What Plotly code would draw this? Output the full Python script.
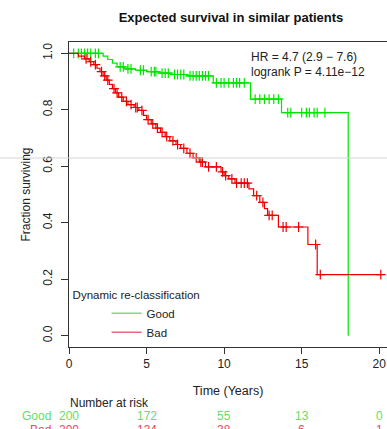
import numpy as np
import plotly.graph_objects as go

# ---- data ----
good_t = [0, 2.2, 2.5, 2.8, 3.1, 3.6, 4.3, 5.0, 5.8, 6.6, 7.6, 9.3, 11.7, 13.7, 18.0]
good_s = [1.0, 0.99, 0.978, 0.965, 0.952, 0.945, 0.94, 0.935, 0.93, 0.925, 0.92, 0.895, 0.838, 0.79, 0.0]
good_cens = [0.3, 0.6, 0.8, 1.0, 1.2, 1.4, 1.7, 1.9, 3.3, 3.5, 3.8, 4.0, 4.6, 4.8, 5.3, 5.5, 5.6,
             6.0, 6.2, 6.4, 6.8, 7.0, 7.2, 7.4, 7.8, 8.0, 8.2, 8.4, 8.6, 8.8, 9.0, 9.5, 9.8, 10.0,
             10.3, 10.6, 10.8, 11.0, 11.3, 12.0, 12.3, 12.6, 12.9, 13.2, 13.5, 14.1, 14.3, 15.0,
             15.3, 15.5, 15.8, 16.0, 16.5]

bad_t = [0, 0.6, 1.0, 1.3, 1.6, 1.8, 2.0, 2.2, 2.4, 2.6, 2.8, 3.0, 3.2, 3.5, 3.8, 4.2, 4.5, 4.8,
         5.0, 5.3, 5.6, 5.9, 6.2, 6.5, 6.9, 7.2, 7.6, 8.0, 8.4, 8.8, 9.8, 10.0, 10.3, 10.7, 11.6,
         11.9, 12.3, 12.6, 12.8, 13.5, 15.4, 16.0, 20.1]
bad_s = [1.0, 0.99, 0.98, 0.97, 0.96, 0.947, 0.935, 0.92, 0.905, 0.89, 0.875, 0.86, 0.845, 0.83,
         0.818, 0.808, 0.798, 0.78, 0.765, 0.75, 0.735, 0.72, 0.705, 0.69, 0.677, 0.663, 0.646,
         0.63, 0.615, 0.598, 0.58, 0.567, 0.555, 0.54, 0.52, 0.496, 0.472, 0.45, 0.426, 0.385,
         0.323, 0.216, 0.216]
bad_cens = [1.1, 1.4, 1.7, 2.1, 2.3, 2.5, 2.9, 3.1, 3.4, 3.7, 4.0, 4.3, 4.4, 4.7, 5.1, 5.4, 5.7,
            6.0, 6.3, 6.7, 7.0, 7.4, 7.8, 8.2, 8.5, 8.6, 9.0, 9.5, 9.9, 10.1, 10.5, 10.8, 11.1,
            11.3, 11.5, 12.1, 12.5, 12.9, 13.1, 13.8, 14.0, 14.8, 15.9, 16.2, 20.1]

risk_times = [0, 5, 10, 15, 20]
risk_good = [200, 172, 55, 13, 0]
risk_bad = [200, 134, 38, 6, 1]

x_ticks = [0, 5, 10, 15, 20]
y_ticks = [0.0, 0.2, 0.4, 0.6, 0.8, 1.0]

GREEN = "#00e600"
RED = "#ee0000"
FONT = "Liberation Sans, Arial, sans-serif"

L, T, B = 69, 42, 82
PW, PH = 387 - L, 429 - T - B
BOT = 429 - B


def px_y(ypx):
    return (BOT - ypx) / PH


def px_x(xpx):
    return (xpx - L) / PW


def step_lookup(times, surv, q):
    idx = np.searchsorted(np.array(times), np.array(q), side="right") - 1
    return [surv[i] for i in idx]


fig = go.Figure()
for t, s, c, col in [(good_t, good_s, good_cens, GREEN), (bad_t, bad_s, bad_cens, RED)]:
    fig.add_trace(go.Scatter(x=t, y=s, mode="lines", line=dict(color=col, width=1.2, shape="hv"),
                             showlegend=False, hoverinfo="skip", cliponaxis=False))
    fig.add_trace(go.Scatter(x=c, y=step_lookup(t, s, c), mode="markers",
                             marker=dict(symbol="cross-thin", size=7, line=dict(color=col, width=1.2)),
                             showlegend=False, hoverinfo="skip", cliponaxis=False))

# legend entries
fig.add_trace(go.Scatter(x=[None], y=[None], mode="lines", name="Good",
                         line=dict(color="#77e077", width=1.5)))
fig.add_trace(go.Scatter(x=[None], y=[None], mode="lines", name="Bad",
                         line=dict(color="#e86a7a", width=1.5)))

fig.update_layout(
    width=387, height=429,
    margin=dict(l=L, r=0, t=T, b=B, autoexpand=False),
    paper_bgcolor="white", plot_bgcolor="white",
    font=dict(family=FONT, size=12, color="#222"),
    title=dict(text="<b>Expected survival in similar patients</b>", x=231 / 387, xanchor="center",
               y=1 - 17 / 429, yanchor="middle", font=dict(size=13, color="#111")),
    xaxis=dict(range=[0, 20.5], tickvals=x_ticks, ticks="outside", ticklen=6, tickcolor="#333",
               showline=True, linecolor="#333", linewidth=1, mirror=True, showgrid=False,
               zeroline=False, tickfont=dict(size=12, color="#222"), automargin=False,
               title=dict(text="Time (Years)", font=dict(size=12.5, color="#222"), standoff=15)),
    yaxis=dict(range=[-0.04, 1.04], tickvals=y_ticks, tickformat=".1f", ticks="outside", ticklen=7,
               tickcolor="#333", showline=True, linecolor="#333", linewidth=1, showgrid=False,
               zeroline=False, tickangle=-90, tickfont=dict(size=12, color="#222"), automargin=False,
               ticklabelstandoff=4,
               title=dict(text="Fraction surviving", font=dict(size=12, color="#222"), standoff=8)),
    legend=dict(x=0.005, y=0.207, xanchor="left", yanchor="top", bgcolor="rgba(0,0,0,0)",
                title=dict(text="Dynamic re-classification", font=dict(size=11.5, color="#222")),
                font=dict(size=11.5, color="#222"), indentation=36, tracegroupgap=0,
                itemwidth=30),
)

ann = []
ann.append(dict(x=px_x(249), y=px_y(57), xref="paper", yref="paper", text="HR = 4.7 (2.9 \u2212 7.6)",
                showarrow=False, xanchor="left", yanchor="middle", font=dict(size=12, color="#222")))
ann.append(dict(x=px_x(249), y=px_y(72), xref="paper", yref="paper", text="logrank P = 4.11e\u221212",
                showarrow=False, xanchor="left", yanchor="middle", font=dict(size=12, color="#222")))
ann.append(dict(x=px_x(68), y=px_y(403), xref="paper", yref="paper", text="Number at risk",
                showarrow=False, xanchor="left", yanchor="middle", font=dict(size=12, color="#222")))
for label, vals, col, ypx in [("Good", risk_good, "#66dd66", 416), ("Bad", risk_bad, "#ee4466", 430)]:
    yy = px_y(ypx)
    ann.append(dict(x=px_x(53), y=yy, xref="paper", yref="paper", text=label, showarrow=False,
                    xanchor="right", yanchor="middle", font=dict(size=12, color=col)))
    for t, v in zip(risk_times, vals):
        ann.append(dict(x=t, y=yy, xref="x", yref="paper", text=str(v), showarrow=False,
                        xanchor="center", yanchor="middle", font=dict(size=12, color=col)))
fig.update_layout(annotations=ann)

# faint horizontal screen artefact line seen in the reference
fig.add_shape(type="line", xref="paper", yref="paper", x0=px_x(0), x1=1, y0=px_y(158),
              y1=px_y(158), line=dict(color="#d4d4d4", width=1), layer="above")

fig.write_html("out.html", config={"displayModeBar": False},
               post_script="document.body.style.margin='0';document.body.style.overflow='hidden';")
